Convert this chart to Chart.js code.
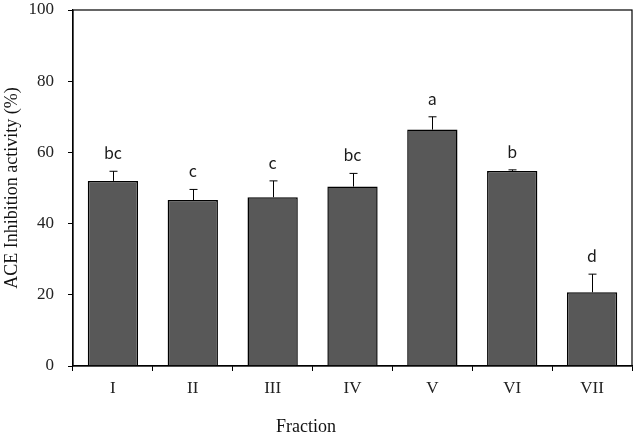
<!DOCTYPE html>
<html>
<head>
<meta charset="utf-8">
<script src="https://cdn.jsdelivr.net/npm/chart.js@4/dist/chart.umd.min.js"></script>
<style>
  html, body { margin:0; padding:0; background:#fff; }
  #wrap { width:638px; height:438px; position:relative; }
</style>
</head>
<body>
<div id="wrap"><canvas id="chart" width="638" height="438"></canvas></div>
<script>
// fractions and measured ACE inhibition (%)
const fractions = ['I','II','III','IV','V','VI','VII'];
const activity = [52.0, 46.6, 47.4, 50.4, 66.4, 54.8, 20.7];
const sdUpper = [2.7, 3.0, 4.6, 3.7, 3.6, 0.3, 5.1];
const groups = ['bc','c','c','bc','a','b','d'];
const yTicks = [0, 20, 40, 60, 80, 100];

const serif = '"Liberation Serif", "Times New Roman", serif';

// error bars + significance letters + frame
const extras = {
  id: 'extras',
  afterDatasetsDraw(chart){
    const ctx = chart.ctx;
    const meta = chart.getDatasetMeta(0);
    const y = chart.scales.y;
    const area = chart.chartArea;
    ctx.save();
    ctx.strokeStyle = '#000';
    ctx.lineWidth = 1;
    meta.data.forEach((bar, i) => {
      const top = y.getPixelForValue(activity[i] + sdUpper[i]);
      const x = Math.round(bar.x) + 0.5;
      ctx.beginPath();
      ctx.moveTo(x, bar.y); ctx.lineTo(x, top);
      ctx.moveTo(x - 4, top); ctx.lineTo(x + 4, top);
      ctx.stroke();
      ctx.fillStyle = '#1a1a1a';
      ctx.font = '16px "Noto Sans CJK KR", "Noto Sans", sans-serif';
      ctx.textAlign = 'center';
      ctx.textBaseline = 'alphabetic';
      ctx.fillText(groups[i], bar.x, top - 12);
    });
    // frame
    ctx.lineWidth = 1.2;
    ctx.strokeRect(area.left, area.top, area.right - area.left, area.bottom - area.top);
    // axis titles
    ctx.fillStyle = '#111';
    ctx.font = '18px ' + serif;
    ctx.textAlign = 'center';
    ctx.textBaseline = 'middle';
    ctx.fillText('Fraction', 306, 427);
    ctx.translate(12, (area.top + area.bottom) / 2);
    ctx.rotate(-Math.PI / 2);
    ctx.fillText('ACE Inhibition activity (%)', 0, 0);
    ctx.restore();
  }
};

new Chart(document.getElementById('chart'), {
  type: 'bar',
  data: {
    labels: fractions,
    datasets: [{
      data: activity,
      backgroundColor: '#585858',
      borderColor: '#000',
      borderWidth: 1.5,
      categoryPercentage: 1,
      barPercentage: 0.63
    }]
  },
  options: {
    responsive: false,
    animation: false,
    layout: { padding: { left: 0, top: 0, right: 6, bottom: 0 } },
    plugins: { legend: { display: false }, tooltip: { enabled: false } },
    scales: {
      x: {
        offset: true,
        grid: { display: true, offset: true, drawOnChartArea: false, tickLength: 5, color: '#000', lineWidth: 1 },
        border: { display: true, color: '#000', width: 1.2 },
        ticks: { color: '#222', font: { family: serif, size: 17 }, padding: 7 },
        afterFit(scale){ scale.height = 72; }
      },
      y: {
        min: 0, max: 100,
        afterBuildTicks(scale){ scale.ticks = yTicks.map(v => ({ value: v })); },
        grid: { display: true, drawOnChartArea: false, tickLength: 5, color: '#000', lineWidth: 1 },
        border: { display: true, color: '#000', width: 1.2 },
        ticks: { color: '#222', font: { family: serif, size: 17 }, padding: 14 },
        afterFit(scale){ scale.width = 73; scale.paddingTop = 10; scale.paddingBottom = 0; }
      }
    }
  },
  plugins: [extras]
});
</script>
</body>
</html>
